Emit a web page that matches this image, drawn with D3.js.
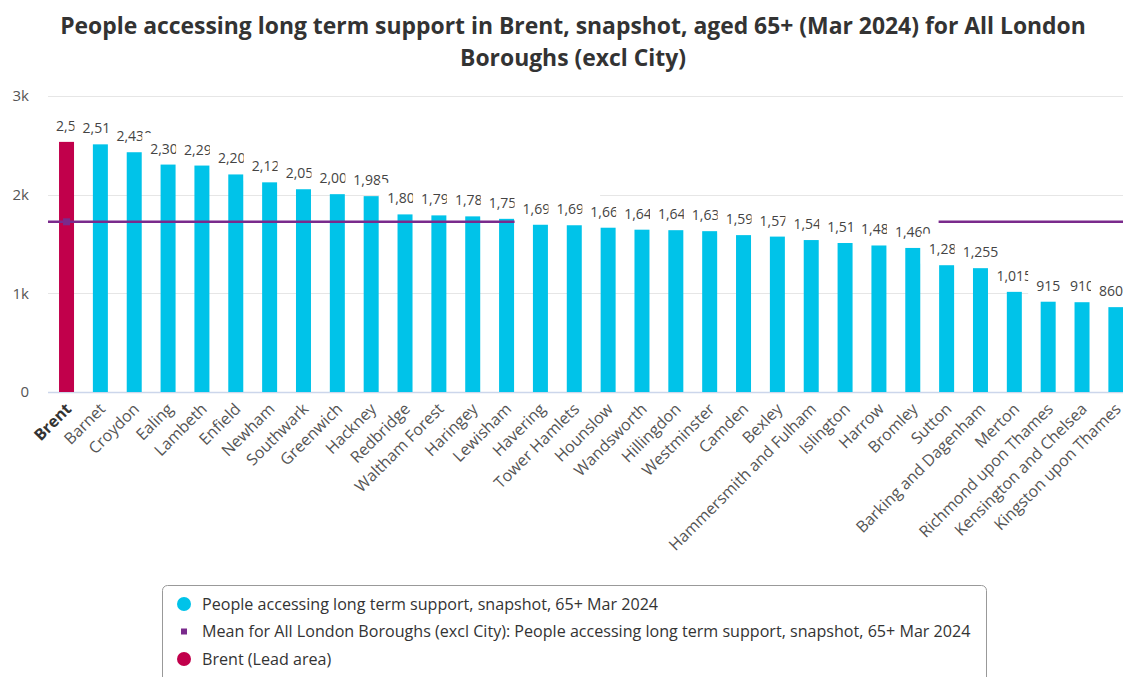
<!DOCTYPE html>
<html>
<head>
<meta charset="utf-8">
<script src="https://cdn.jsdelivr.net/npm/d3@7"></script>
<style>
  html, body { margin: 0; padding: 0; background: #fff; overflow: hidden; }
  svg { display: block; font-family: "Open Sans", "Noto Sans", sans-serif; }
</style>
</head>
<body>
<svg id="chart" width="1123" height="677"></svg>
<script>
const titleLines = [
  "People accessing long term support in Brent, snapshot, aged 65+ (Mar 2024) for All London",
  "Boroughs (excl City)"
];
const categories = ["Brent","Barnet","Croydon","Ealing","Lambeth","Enfield","Newham","Southwark","Greenwich","Hackney","Redbridge","Waltham Forest","Haringey","Lewisham","Havering","Tower Hamlets","Hounslow","Wandsworth","Hillingdon","Westminster","Camden","Bexley","Hammersmith and Fulham","Islington","Harrow","Bromley","Sutton","Barking and Dagenham","Merton","Richmond upon Thames","Kensington and Chelsea","Kingston upon Thames"];
const values = [2535,2510,2430,2305,2295,2205,2125,2055,2005,1985,1800,1790,1780,1755,1695,1690,1665,1645,1640,1630,1590,1575,1540,1510,1485,1460,1285,1255,1015,915,910,860];
const meanValue = 1725;
const leadArea = "Brent";
const yTicks = [0, 1000, 2000, 3000];
const yTickLabels = ["0", "1k", "2k", "3k"];
const legendItems = [
  "People accessing long term support, snapshot, 65+ Mar 2024",
  "Mean for All London Boroughs (excl City): People accessing long term support, snapshot, 65+ Mar 2024",
  "Brent (Lead area)"
];

const COL_BAR = "#00c3e9", COL_LEAD = "#c1004b", COL_MEAN = "#7a2a8c";
const svg = d3.select("#chart");
const fmt = d3.format(",");

const plotLeft = 48, plotRight = 1131;
const x = d3.scaleBand().domain(categories).range([49.6, 1132.8]).paddingInner(0.557).paddingOuter(0.2785);
const y = d3.scaleLinear().domain([0, 3000]).range([392, 96]);

// title
svg.append("g").selectAll("text").data(titleLines).join("text")
  .attr("x", 573).attr("y", (d, i) => 34 + i * 32)
  .attr("text-anchor", "middle").attr("font-size", 22.9).attr("font-weight", 700)
  .attr("fill", "#333").text(d => d);

// gridlines
svg.append("g").selectAll("line").data(yTicks.filter(t => t > 0)).join("line")
  .attr("x1", plotLeft).attr("x2", 1133)
  .attr("y1", d => Math.round(y(d)) + 0.5).attr("y2", d => Math.round(y(d)) + 0.5)
  .attr("stroke", "#e6e6e6").attr("stroke-width", 1);

// y labels
svg.append("g").selectAll("text").data(yTicks).join("text")
  .attr("x", 29).attr("y", d => y(d)).attr("dy", "0.36em")
  .attr("text-anchor", "end").attr("font-size", 15).attr("fill", "#555")
  .text((d, i) => yTickLabels[i]);

// axis line
svg.append("line").attr("x1", plotLeft).attr("x2", 1133).attr("y1", y(0) + 0.5).attr("y2", y(0) + 0.5)
  .attr("stroke", "#ccd6eb").attr("stroke-width", 1.5);

// bars
svg.append("g").selectAll("rect").data(categories).join("rect")
  .attr("x", d => x(d)).attr("width", x.bandwidth())
  .attr("y", (d, i) => y(values[i])).attr("height", (d, i) => y(0) - y(values[i]))
  .attr("fill", d => d === leadArea ? COL_LEAD : COL_BAR);

// mean line
svg.append("line").attr("x1", plotLeft).attr("x2", 1133).attr("y1", y(meanValue)).attr("y2", y(meanValue))
  .attr("stroke", COL_MEAN).attr("stroke-width", 2.6);
svg.append("rect")
  .attr("x", x(leadArea) + x.bandwidth() / 2 - 3.5).attr("y", y(meanValue) - 3.5)
  .attr("width", 7).attr("height", 7).attr("fill", COL_MEAN);

// data labels with white boxes (drawn left to right, kept inside the plot)
const lbl = svg.append("g");
categories.forEach((c, i) => {
  const cx = x(c) + x.bandwidth() / 2;
  const top = y(values[i]);
  const g = lbl.append("g");
  const rect = g.append("rect").attr("fill", "#fff");
  const t = g.append("text").attr("y", top - 11)
    .attr("text-anchor", "middle").attr("font-size", 14).attr("fill", "#444")
    .text(fmt(values[i]));
  const w = t.node().getComputedTextLength();
  let bx = cx - w / 2 - 8;
  const bw = w + 16;
  if (bx < plotLeft) bx = plotLeft;
  if (bx + bw > plotRight) bx = plotRight - bw;
  rect.attr("x", bx).attr("width", bw).attr("y", top - 31.5).attr("height", 30);
  t.attr("x", bx + bw / 2);
});

// x labels
svg.append("g").selectAll("text").data(categories).join("text")
  .attr("transform", d => `translate(${x(d) + x.bandwidth() / 2 + 6},${410}) rotate(-45)`)
  .attr("text-anchor", "end").attr("font-size", 16)
  .attr("font-weight", d => d === leadArea ? 700 : 400)
  .attr("fill", d => d === leadArea ? "#333" : "#555")
  .text(d => d);

// legend
const lg = svg.append("g");
lg.append("rect").attr("x", 162.5).attr("y", 585.5).attr("width", 824).attr("height", 120)
  .attr("rx", 5).attr("fill", "#fff").attr("stroke", "#999").attr("stroke-width", 1);
const rows = lg.selectAll("g.row").data(legendItems).join("g").attr("class", "row")
  .attr("transform", (d, i) => `translate(0,${604 + i * 27.5})`);
rows.each(function(d, i) {
  const r = d3.select(this);
  if (i === 1) {
    r.append("rect").attr("x", 181).attr("y", -3).attr("width", 6).attr("height", 6).attr("fill", COL_MEAN);
  } else {
    r.append("circle").attr("cx", 184).attr("cy", 0).attr("r", 7).attr("fill", i === 0 ? COL_BAR : COL_LEAD);
  }
  r.append("text").attr("x", 202).attr("y", 0).attr("dy", "0.35em")
    .attr("font-size", 16.1).attr("fill", "#333").text(d);
});
</script>
</body>
</html>
